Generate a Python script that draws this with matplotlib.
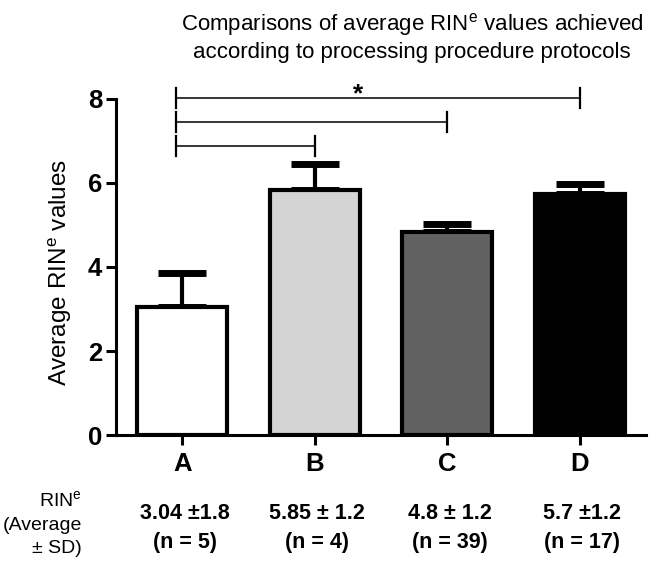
import matplotlib
import matplotlib.pyplot as plt

matplotlib.use("Agg")

plt.rcParams["font.family"] = ["Liberation Sans", "DejaVu Sans"]
plt.rcParams["mathtext.default"] = "regular"

groups = ["A", "B", "C", "D"]
means = [3.04, 5.84, 4.83, 5.73]
upper_sd = [0.82, 0.61, 0.19, 0.25]
bar_colors = ["white", "#d4d4d4", "#616161", "black"]
summary_values = ["3.04 \u00b11.8", "5.85 \u00b1 1.2", "4.8 \u00b1 1.2", "5.7 \u00b11.2"]
summary_n = ["(n = 5)", "(n = 4)", "(n = 39)", "(n = 17)"]
# comparisons drawn as brackets from group A: (end index, height)
brackets = [(1, 6.87), (2, 7.45), (3, 8.02)]

fig = plt.figure(figsize=(6.59, 5.65), dpi=100)
ax = fig.add_axes([0.176, 0.230, 0.804, 0.595])

x = list(range(len(groups)))
ax.bar(x, means, width=0.68, color=bar_colors, edgecolor="black", linewidth=3, zorder=2)
ax.errorbar(x, means, yerr=[[0] * len(means), upper_sd], fmt="none", ecolor="black",
            elinewidth=3, capsize=17, capthick=5, zorder=1)

for end, h in brackets:
    ax.plot([-0.05, end], [h, h], color="black", linewidth=1.1, clip_on=False)
    ax.plot([-0.05, -0.05], [h - 0.24, h + 0.24], color="black", linewidth=1.6, clip_on=False)
    ax.plot([end, end], [h - 0.24, h + 0.24], color="black", linewidth=1.6, clip_on=False)
ax.text(1.33, 8.12, "*", ha="center", va="center", fontsize=19, fontweight="bold")

ax.set_xlim(-0.5, 3.5)
ax.set_ylim(0, 8)
ax.set_yticks([0, 2, 4, 6, 8])
ax.set_xticks(x)
ax.set_xticklabels(groups)
for side in ["top", "right"]:
    ax.spines[side].set_visible(False)
for side in ["left", "bottom"]:
    ax.spines[side].set_linewidth(2.2)
ax.tick_params(axis="both", width=2.2, length=7, labelsize=18.5)
ax.tick_params(axis="x", pad=5)
ax.tick_params(axis="y", pad=3)
for lab in ax.get_xticklabels() + ax.get_yticklabels():
    lab.set_fontweight("bold")

ax.set_ylabel("Average RIN$^{e}$ values", fontsize=17.5)
ax.yaxis.set_label_coords(-0.08, 0.485)

fig.text(0.625, 0.935, "Comparisons of average RIN$^{e}$ values achieved\naccording to processing procedure protocols",
         ha="center", va="center", fontsize=16, linespacing=1.25)

# summary table under the axis
fig.text(0.124, 0.073, "RIN$^{e}$\n(Average\n\u00b1 SD)", ha="right", va="center",
         fontsize=14, linespacing=1.5)
for i in x:
    xf = ax.transData.transform((i + 0.02, 0))[0] / fig.bbox.width
    fig.text(xf, 0.092, summary_values[i], ha="center", va="center",
             fontsize=15.5, fontweight="bold")
    fig.text(xf, 0.039, summary_n[i], ha="center", va="center",
             fontsize=15.5, fontweight="bold")

fig.savefig("out.png", dpi=100)
